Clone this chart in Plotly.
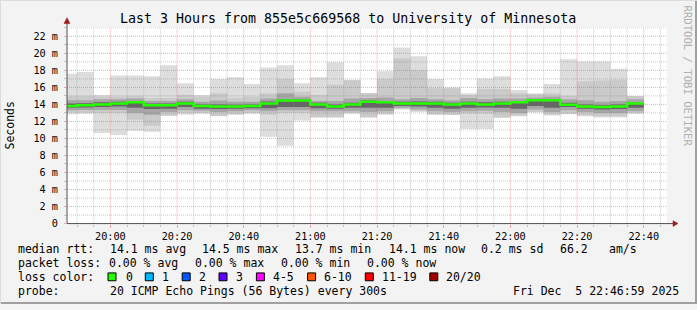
import plotly.graph_objects as go
import pandas as pd

W, H = 697, 310

# ---------------- data ----------------
step_end = pd.date_range("2025-12-05 19:50:00", periods=35, freq="5min")

median_ms = [13.8, 13.9, 14.0, 14.1, 14.25, 13.9, 13.9, 14.1, 13.8, 13.75, 13.75, 13.8,
             14.1, 14.45, 14.45, 14.0, 13.75, 14.0, 14.3, 14.25, 14.1, 14.1, 14.1, 14.0,
             14.1, 14.0, 14.1, 14.25, 14.5, 14.5, 13.95, 13.75, 13.7, 13.75, 14.1]
min_ms = [12.85, 12.9, 10.65, 10.4, 10.9, 10.8, 12.65, 12.8, 12.9, 12.6, 12.8, 12.9,
          10.2, 9.15, 12.1, 12.45, 12.45, 12.9, 12.45, 12.8, 13.4, 13.15, 12.75, 12.75,
          11.1, 11.1, 12.4, 12.6, 13.05, 12.7, 12.85, 12.6, 12.45, 12.45, 12.9]
low1_ms = [13.05, 13.05, 13.0, 13.0, 12.2, 11.5, 12.7, 13.0, 13.0, 12.65, 12.85, 13.0,
           12.8, 13.0, 13.0, 12.5, 12.5, 13.0, 12.5, 12.9, 13.45, 13.2, 12.85, 12.8,
           12.9, 12.9, 12.5, 12.7, 13.1, 12.8, 12.9, 12.7, 12.6, 12.6, 12.95]
low2_ms = [13.3, 13.35, 13.35, 13.35, 13.0, 12.8, 13.1, 13.3, 13.25, 13.1, 13.2, 13.3,
           13.2, 13.3, 13.3, 13.2, 13.2, 13.2, 13.1, 13.2, 13.6, 13.4, 13.2, 13.1,
           13.2, 13.25, 13.1, 13.0, 13.4, 13.1, 13.3, 13.1, 13.0, 13.0, 13.2]
low3_ms = [13.6, 13.65, 13.7, 13.75, 13.6, 13.45, 13.5, 13.7, 13.5, 13.45, 13.5, 13.55,
           13.55, 13.7, 13.7, 13.55, 13.5, 13.6, 13.6, 13.6, 13.8, 13.75, 13.6, 13.5,
           13.6, 13.65, 13.6, 13.5, 13.8, 13.6, 13.7, 13.5, 13.4, 13.45, 13.6]
up3_ms = [14.1, 14.15, 14.25, 14.3, 14.4, 14.1, 14.1, 14.3, 14.0, 14.0, 13.95, 14.0,
          14.35, 14.6, 14.6, 14.2, 14.0, 14.2, 14.45, 14.4, 14.3, 14.35, 14.3, 14.2,
          14.3, 14.25, 14.3, 14.4, 14.6, 14.6, 14.2, 14.0, 13.9, 14.0, 14.2]
up2_ms = [14.5, 14.5, 14.6, 14.6, 14.7, 14.4, 14.4, 14.6, 14.3, 14.45, 14.3, 14.3,
          14.7, 15.3, 14.9, 14.4, 14.4, 14.7, 14.75, 14.8, 14.6, 14.75, 14.6, 14.5,
          14.75, 14.6, 14.7, 14.7, 14.8, 14.9, 14.6, 14.5, 14.3, 14.4, 14.6]
up1_ms = [14.95, 14.95, 14.9, 14.9, 14.95, 14.75, 14.75, 15.1, 14.9, 15.3, 14.75, 14.9,
          15.3, 17.0, 15.5, 15.1, 16.3, 16.85, 15.3, 17.0, 19.4, 18.0, 15.9, 15.9,
          15.1, 15.8, 15.8, 15.3, 15.2, 15.3, 15.0, 16.7, 16.8, 16.9, 14.95]
max_ms = [17.6, 17.8, 15.1, 17.4, 17.4, 17.3, 18.6, 16.5, 15.1, 17.0, 17.2, 16.4,
          18.35, 18.6, 16.5, 17.2, 18.95, 16.9, 15.35, 17.9, 20.7, 19.65, 17.0, 16.0,
          15.3, 17.05, 17.3, 15.7, 15.3, 16.4, 19.3, 19.05, 19.05, 18.2, 15.0]

y_major = [0, 2, 4, 6, 8, 10, 12, 14, 16, 18, 20, 22]
y_major_text = ["0", "2 m", "4 m", "6 m", "8 m", "10 m", "12 m", "14 m", "16 m",
                "18 m", "20 m", "22 m"]
y_minor = [1, 3, 5, 7, 9, 11, 13, 15, 17, 19, 21, 23]
x_major = pd.date_range("2025-12-05 20:00", "2025-12-05 22:40", freq="20min")
x_all5 = pd.date_range("2025-12-05 19:50", "2025-12-05 22:45", freq="5min")
x_minor = [t for t in x_all5 if t not in set(x_major)]
x_start, x_end = pd.Timestamp("2025-12-05 19:46:59"), pd.Timestamp("2025-12-05 22:46:59")
y_top = 23.04

title = "Last 3 Hours from 855e5c669568 to University of Minnesota"
rtt_stats = ["median rtt:", "14.1 ms avg", "14.5 ms max", "13.7 ms min", "14.1 ms now",
             "0.2 ms sd", "66.2", "am/s"]
loss_stats = ["packet loss:", "0.00 % avg", "0.00 % max", "0.00 % min", "0.00 % now"]
loss_labels = ["0", "1", "2", "3", "4-5", "6-10", "11-19", "20/20"]
loss_colors = ["#26ff00", "#00b8ff", "#0059ff", "#5e00ff", "#ff00ff", "#ff5500",
               "#ff0000", "#a10000"]
probe_text = ["probe:", "20 ICMP Echo Pings (56 Bytes) every 300s"]
date_text = "Fri Dec  5 22:46:59 2025"

# ---------------- layout constants (pixels) ----------------
PX0, PX1, PY0, PY1 = 67, 667, 228, 28
rtt_x = [16, 107.6, 200, 293.3, 386.7, 479, 557.8, 606.7]
loss_x = [16, 107.3, 193.3, 279, 365.3]
box_x = [108, 145.3, 182.2, 219, 256.4, 307.6, 365.3, 429.8]
lab_x = [123.5, 160, 197, 234, 271, 322, 380, 444.4]
probe_x = [16, 107.6]
FONT = "DejaVu Sans Mono"


def px(X):
    return X / W


def py(Y):
    return 1 - Y / H


def nb(s):
    return s.replace(" ", "\u00a0")


centers = step_end - pd.Timedelta(seconds=150)
starts = step_end - pd.Timedelta(minutes=5)

fig = go.Figure()

bands = [(min_ms, max_ms, "#dddddd"), (low1_ms, up1_ms, "#cacaca"),
         (low2_ms, up2_ms, "#a6a6a6"), (low3_ms, up3_ms, "#666666")]
for lo, hi, col in bands:
    fig.add_trace(go.Bar(x=centers, y=[h - l for l, h in zip(lo, hi)], base=lo,
                         width=300000, marker=dict(color=col, line_width=0),
                         hoverinfo="skip", showlegend=False))


def vlines(ts):
    xs, ys = [], []
    for t in ts:
        xs += [t, t, None]
        ys += [0, y_top, None]
    return xs, ys


def hlines(vs):
    xs, ys = [], []
    for v in vs:
        xs += [x_start, x_end, None]
        ys += [v, v, None]
    return xs, ys


minor_col = "rgba(110,110,110,0.38)"
major_col = "rgba(240,50,50,0.42)"
for (xs, ys), col in [(vlines(x_minor), minor_col), (hlines(y_minor), minor_col),
                      (vlines(x_major), major_col), (hlines(y_major[1:]), major_col)]:
    fig.add_trace(go.Scatter(x=xs, y=ys, mode="lines",
                             line=dict(color=col, width=1, dash="1px,1px"),
                             hoverinfo="skip", showlegend=False))

fig.add_trace(go.Scatter(x=list(starts) + [step_end[-1]], y=median_ms + [median_ms[-1]],
                         mode="lines", line=dict(color=loss_colors[0], width=2.5, shape="hv"),
                         hoverinfo="skip", showlegend=False))

shapes = []
axis_col = "#505050"
arrow_col = "#9a1c1c"
shapes.append(dict(type="line", xref="paper", yref="paper", x0=px(PX0), x1=px(674),
                   y0=py(PY0), y1=py(PY0), line=dict(color=axis_col, width=1)))
shapes.append(dict(type="line", xref="paper", yref="paper", x0=px(PX0), x1=px(PX0),
                   y0=py(PY0), y1=py(22), line=dict(color=axis_col, width=1)))
shapes.append(dict(type="path", xref="paper", yref="paper",
                   path=f"M {px(673)} {py(225)} L {px(678)} {py(228)} L {px(673)} {py(231)} Z",
                   fillcolor=arrow_col, line=dict(color=arrow_col, width=0.5)))
shapes.append(dict(type="path", xref="paper", yref="paper",
                   path=f"M {px(64)} {py(24)} L {px(67)} {py(18)} L {px(70)} {py(24)} Z",
                   fillcolor=arrow_col, line=dict(color=arrow_col, width=0.5)))
# frame
shapes.append(dict(type="line", xref="paper", yref="paper", x0=0, x1=1, y0=py(309), y1=py(309),
                   line=dict(color="#a0a0a0", width=2)))
shapes.append(dict(type="line", xref="paper", yref="paper", x0=px(696), x1=px(696), y0=0, y1=1,
                   line=dict(color="#a0a0a0", width=2)))
shapes.append(dict(type="line", xref="paper", yref="paper", x0=0, x1=1, y0=py(0.5), y1=py(0.5),
                   line=dict(color="#dcdcdc", width=1)))
shapes.append(dict(type="line", xref="paper", yref="paper", x0=px(0.5), x1=px(0.5), y0=0, y1=1,
                   line=dict(color="#dcdcdc", width=1)))

LY = [254.3, 268.3, 282.3, 296.3]
for i, c in enumerate(loss_colors):
    shapes.append(dict(type="rect", xref="paper", yref="paper",
                       x0=px(box_x[i]), x1=px(box_x[i] + 8), y0=py(LY[2] + 4), y1=py(LY[2] - 4),
                       fillcolor=c, line=dict(color="#000000", width=1)))

ann = []
tf = dict(family=FONT, size=11.5, color="#000000")


def add_text(s, X, Y, anchor="left", font=tf, angle=0):
    ann.append(dict(text=nb(s), x=px(X), y=py(Y), xref="paper", yref="paper",
                    xanchor=anchor, yanchor="middle", showarrow=False, font=font,
                    textangle=angle))


for s, X in zip(rtt_stats, rtt_x):
    add_text(s, X, LY[0])
for s, X in zip(loss_stats, loss_x):
    add_text(s, X, LY[1])
add_text("loss color:", 16, LY[2])
for s, X in zip(loss_labels, lab_x):
    add_text(s, X, LY[2])
for s, X in zip(probe_text, probe_x):
    add_text(s, X, LY[3])
add_text(date_text, 681, LY[3], anchor="right")
add_text(title, 348, 19, anchor="center", font=dict(family=FONT, size=13.3, color="#000"))
add_text("Seconds", 10, 128, anchor="center", font=dict(family=FONT, size=11.5, color="#000"),
         angle=-90)
add_text("RRDTOOL / TOBI OETIKER", 688, 77, anchor="center",
         font=dict(family=FONT, size=10.6, color="#b0b0b0"), angle=90)

tick_font = dict(family=FONT, size=10.2, color="#000000")
fig.update_layout(
    width=W, height=H, margin=dict(l=0, r=0, t=0, b=0),
    paper_bgcolor="#f3f3f3", plot_bgcolor="#ffffff",
    barmode="overlay", showlegend=False,
    shapes=shapes, annotations=ann,
    xaxis=dict(type="date", range=[x_start, x_end], domain=[px(PX0), px(PX1)],
               tickmode="array", tickvals=list(x_major), tickformat="%H:%M",
               ticks="outside", ticklen=3, tickcolor=major_col, tickfont=tick_font,
               showgrid=False, zeroline=False, showline=False, fixedrange=True,
               minor=dict(tickmode="array", tickvals=x_minor, ticks="outside", ticklen=2,
                          tickcolor=minor_col, showgrid=False)),
    yaxis=dict(range=[0, y_top], domain=[py(PY0), py(PY1)],
               tickmode="array", tickvals=y_major, ticktext=y_major_text,
               ticks="outside", ticklen=2, tickcolor=major_col, tickfont=tick_font,
               ticklabelstandoff=4,
               showgrid=False, zeroline=False, showline=False, fixedrange=True,
               minor=dict(tickmode="array", tickvals=y_minor, ticks="outside", ticklen=2,
                          tickcolor=minor_col, showgrid=False)),
)

fig.write_html("out.html")
